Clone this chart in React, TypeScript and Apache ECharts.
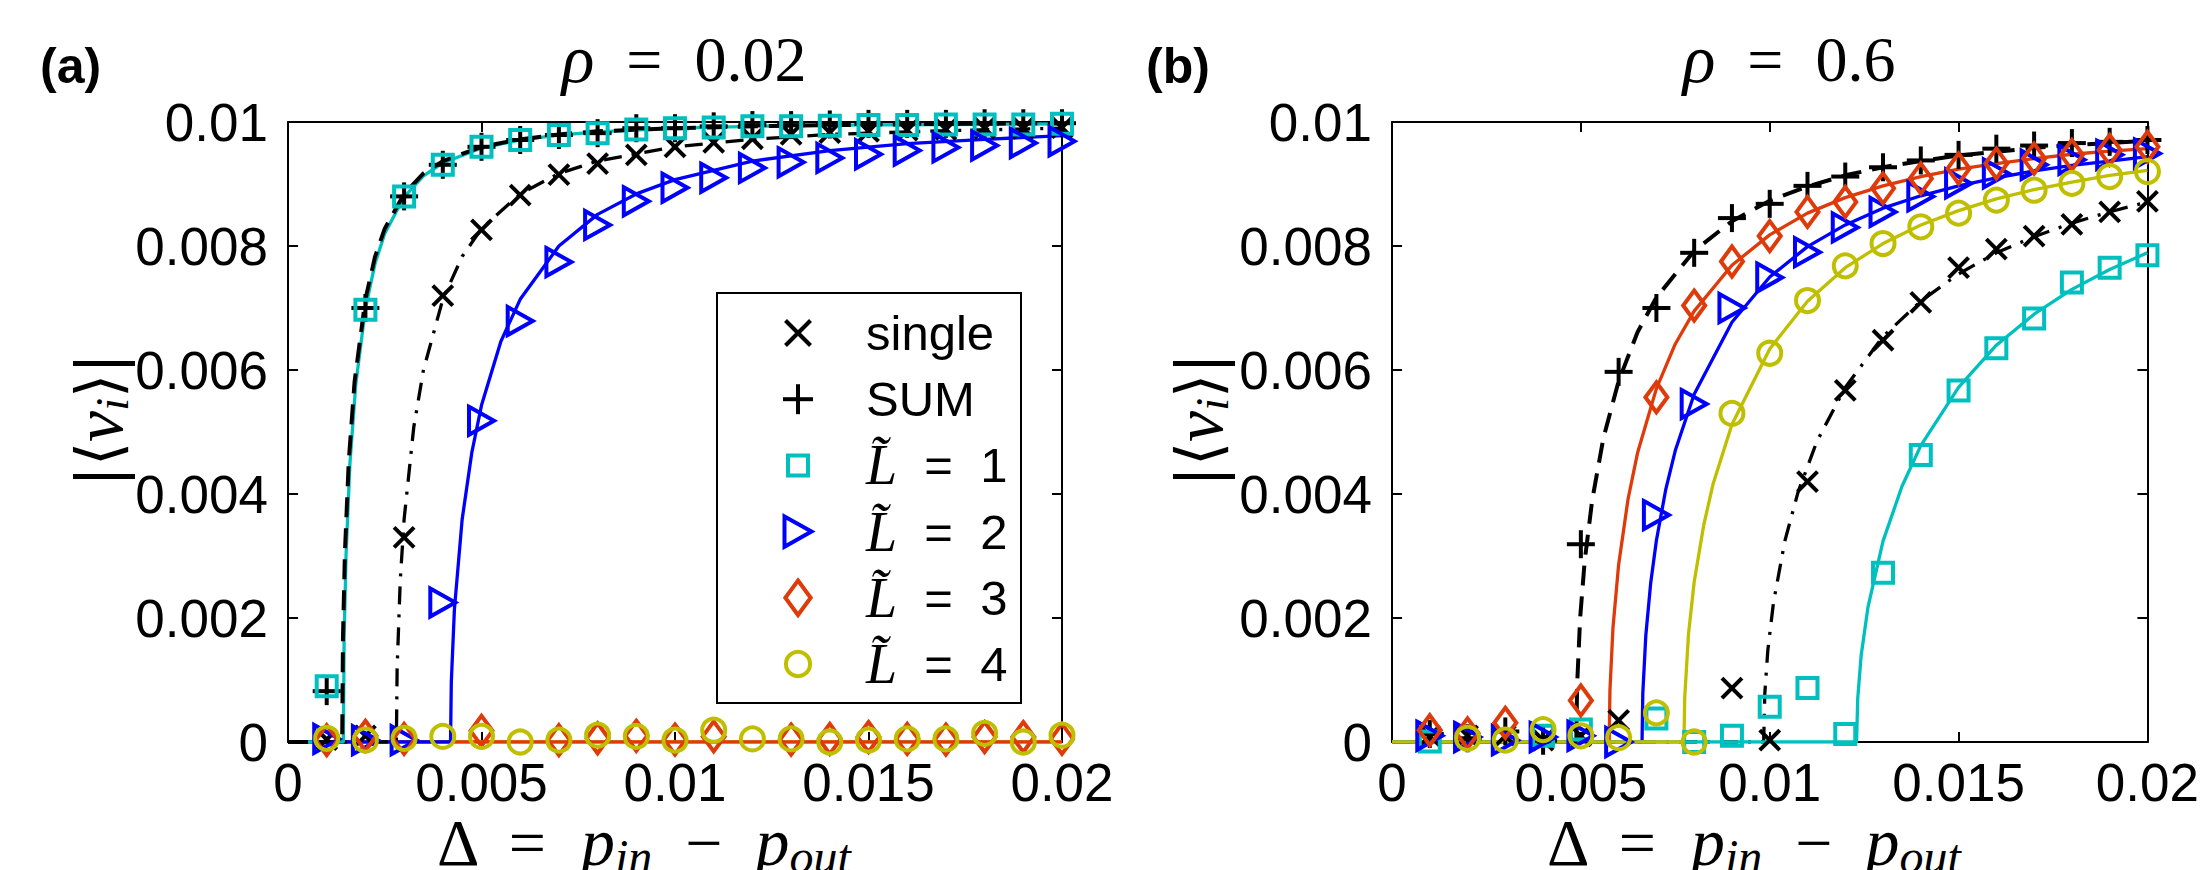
import React, { useEffect, useRef } from 'react';
import * as echarts from 'echarts';

// x positions of the simulation points, in units of 1e-3
const deltaMilli = [1, 2, 3, 4, 5, 6, 7, 8, 9, 10, 11, 12, 13, 14, 15, 16, 17, 18, 19, 20];

// ---------- Panel (a): rho = 0.02 (values in units of 1e-3) ----------
const singleA = [0.04, 0.1, 3.3, 7.2, 8.26, 8.82, 9.15, 9.33, 9.47, 9.6, 9.67, 9.73, 9.8, 9.83, 9.85, 9.87, 9.88, 9.9, 9.9, 9.91];
const sumA = [0.82, 7.0, 8.8, 9.31, 9.6, 9.71, 9.79, 9.82, 9.9, 9.9, 9.93, 9.95, 9.95, 9.96, 9.97, 9.97, 9.97, 9.98, 9.98, 9.98];
const l1A = [0.9, 6.97, 8.8, 9.31, 9.6, 9.71, 9.79, 9.82, 9.88, 9.9, 9.91, 9.93, 9.93, 9.94, 9.95, 9.95, 9.96, 9.96, 9.96, 9.97];
const l2A = [0.05, 0.03, 0.03, 2.25, 5.18, 6.79, 7.74, 8.34, 8.72, 8.94, 9.1, 9.26, 9.35, 9.42, 9.48, 9.54, 9.59, 9.62, 9.66, 9.69];
const l3A = [0.03, 0.1, 0.05, null, 0.18, null, 0.03, 0.06, 0.1, 0.04, 0.09, null, 0.04, 0.05, 0.08, 0.05, 0.04, 0.08, 0.08, 0.05];
const l4A = [0.06, 0.03, 0.06, 0.09, 0.09, 0.0, 0.03, 0.11, 0.09, 0.03, 0.19, 0.05, 0.05, 0.0, 0.03, 0.05, 0.05, 0.14, 0.0, 0.11];

// theory curves, panel (a)
const curveSumAx = [0, 1.4, 1.42, 1.47, 1.57, 1.72, 2.0, 2.25, 2.5, 3, 3.5, 4, 5, 6, 7, 8, 10, 12, 14, 17, 20];
const curveSumAy = [0, 0, 1.67, 3.05, 4.53, 5.81, 7.14, 7.83, 8.28, 8.84, 9.17, 9.37, 9.6, 9.72, 9.8, 9.85, 9.9, 9.93, 9.95, 9.97, 9.98];
const curveL1Ax = [0, 1.43, 1.45, 1.5, 1.6, 1.75, 2.0, 2.25, 2.5, 3.0, 3.5, 4.0, 5, 6, 7, 8, 10, 12, 14, 17, 20];
const curveL1Ay = [0, 0, 1.66, 3.02, 4.49, 5.76, 6.99, 7.72, 8.2, 8.79, 9.13, 9.34, 9.58, 9.71, 9.79, 9.84, 9.9, 9.93, 9.95, 9.96, 9.97];
const curveSingleAx = [0, 2.8, 2.82, 2.9, 3.0, 3.25, 3.5, 4, 4.5, 5, 6, 7, 8, 10, 12, 14, 17, 20];
const curveSingleAy = [0, 0, 1.19, 2.6, 3.59, 5.08, 6.0, 7.14, 7.83, 8.28, 8.84, 9.17, 9.37, 9.6, 9.72, 9.8, 9.86, 9.9];
const curveL2Ax = [0, 4.2, 4.22, 4.3, 4.5, 4.75, 5, 5.5, 6, 7, 8, 9, 10, 12, 14, 16, 18, 20];
const curveL2Ay = [0, 0, 0.97, 2.14, 3.59, 4.67, 5.43, 6.46, 7.14, 8.0, 8.51, 8.84, 9.07, 9.37, 9.54, 9.65, 9.72, 9.78];
const curveL3Ax = [0, 20];
const curveL3Ay = [0, 0];
const curveL4Ax = [0, 20];
const curveL4Ay = [0, 0];

// ---------- Panel (b): rho = 0.6 ----------
const singleB = [0.1, 0.1, 0.1, 0.03, 0.1, 0.35, null, null, 0.87, 0.03, 4.2, 5.67, 6.48, 7.09, 7.65, 7.95, 8.16, 8.35, 8.55, 8.72];
const sumB = [0.13, 0.06, 0.17, 0.02, 3.19, 5.97, 7.0, 7.89, 8.45, 8.68, 8.97, 9.12, 9.27, 9.38, 9.47, 9.57, 9.62, 9.66, 9.68, 9.71];
const l1B = [0.01, null, null, 0.1, 0.2, null, 0.38, 0.0, 0.1, 0.57, 0.87, 0.13, 2.73, 4.63, 5.67, 6.35, 6.83, 7.41, 7.65, 7.85];
const l2B = [0.1, 0.08, 0.03, 0.08, 0.1, 0.0, 3.66, 5.45, 7.0, 7.49, 7.9, 8.3, 8.55, 8.8, 9.01, 9.17, 9.31, 9.39, 9.47, 9.49];
const l3B = [0.19, 0.14, 0.31, null, 0.67, null, 5.56, 7.04, 7.75, 8.16, 8.55, 8.71, 8.93, 9.09, 9.25, 9.33, 9.41, 9.47, 9.55, 9.6];
const l4B = [null, 0.06, 0.03, 0.2, 0.1, 0.07, 0.47, 0.0, 5.3, 6.27, 7.12, 7.68, 8.04, 8.31, 8.53, 8.74, 8.9, 9.01, 9.12, 9.2];

// theory curves, panel (b)
const curveSumBx = [0, 4.88, 4.9, 4.98, 5.1, 5.3, 5.6, 6, 6.5, 7, 8, 9, 10, 11, 12, 13, 14, 15, 16, 17, 18, 19, 20];
const curveSumBy = [0, 0, 0.9, 1.99, 2.91, 3.9, 4.91, 5.82, 6.61, 7.17, 7.92, 8.4, 8.73, 8.96, 9.14, 9.27, 9.37, 9.46, 9.52, 9.58, 9.63, 9.66, 9.7];
const curveL3Bx = [0, 5.75, 5.77, 5.85, 6.0, 6.25, 6.5, 7, 7.5, 8, 9, 10, 11, 12, 13, 14, 15, 16, 17, 18, 19, 20];
const curveL3By = [0, 0, 0.83, 1.84, 2.86, 3.92, 4.66, 5.7, 6.42, 6.95, 7.69, 8.18, 8.53, 8.78, 8.97, 9.12, 9.24, 9.33, 9.41, 9.48, 9.53, 9.57];
const curveL2Bx = [0, 6.62, 6.64, 6.72, 6.85, 7.0, 7.25, 7.5, 8, 9, 10, 11, 12, 13, 14, 15, 16, 17, 18, 19, 20];
const curveL2By = [0, 0, 0.78, 1.72, 2.57, 3.25, 4.08, 4.7, 5.61, 6.77, 7.5, 7.99, 8.34, 8.61, 8.81, 8.97, 9.1, 9.21, 9.3, 9.37, 9.44];
const curveL4Bx = [0, 7.73, 7.75, 7.85, 8.0, 8.25, 8.5, 9, 10, 11, 12, 13, 14, 15, 16, 17, 18, 19, 20];
const curveL4By = [0, 0, 0.72, 1.74, 2.58, 3.49, 4.16, 5.12, 6.34, 7.11, 7.65, 8.04, 8.34, 8.57, 8.76, 8.91, 9.03, 9.14, 9.22];
const curveSingleBx = [0, 9.84, 9.87, 9.95, 10.1, 10.4, 10.75, 11.25, 12, 13, 14, 15, 16, 17, 18, 19, 20];
const curveSingleBy = [0, 0, 0.78, 1.48, 2.25, 3.24, 4.03, 4.85, 5.72, 6.54, 7.11, 7.55, 7.89, 8.15, 8.37, 8.55, 8.71];
const curveL1Bx = [0, 12.3, 12.33, 12.42, 12.6, 13, 13.5, 14, 15, 16, 17, 18, 19, 20];
const curveL1By = [0, 0, 0.7, 1.39, 2.17, 3.24, 4.12, 4.78, 5.72, 6.4, 6.9, 7.3, 7.62, 7.89];

// axis ticks
const xTicks = { min: 0, max: 0.02, interval: 0.005 };
const yTicks = { min: 0, max: 0.01, interval: 0.002 };

const legendNames = ['single', 'SUM', 'L1', 'L2', 'L3', 'L4'];
const legendLabels = ['single', 'SUM', '1', '2', '3', '4'];
const panelTitles = ['0.02', '0.6'];
const panelLabels = ['(a)', '(b)'];

const MILLI = 1e-3;

const COLORS: Record<string, string> = {
  single: '#000000',
  SUM: '#000000',
  L1: '#00BFBF',
  L2: '#0000FF',
  L3: '#DE3A0A',
  L4: '#BFBF00',
};

const LINE_TYPES: Record<string, any> = {
  single: [18, 10, 3, 10],
  SUM: [20, 11],
  L1: 'solid',
  L2: 'solid',
  L3: 'solid',
  L4: 'solid',
};

const MARKER_STROKE = 4;

// marker glyph (MATLAB-like hollow markers) centred on a pixel position
function markerShape(kind: string, cx: number, cy: number, k = 1): any {
  const st = { fill: 'none', stroke: COLORS[kind], lineWidth: MARKER_STROKE };
  if (kind === 'single') {
    const h = 10 * k;
    return {
      type: 'group',
      children: [
        { type: 'line', shape: { x1: cx - h, y1: cy - h, x2: cx + h, y2: cy + h }, style: st },
        { type: 'line', shape: { x1: cx - h, y1: cy + h, x2: cx + h, y2: cy - h }, style: st },
      ],
    };
  }
  if (kind === 'SUM') {
    const h = 14 * k;
    return {
      type: 'group',
      children: [
        { type: 'line', shape: { x1: cx - h, y1: cy, x2: cx + h, y2: cy }, style: st },
        { type: 'line', shape: { x1: cx, y1: cy - h, x2: cx, y2: cy + h }, style: st },
      ],
    };
  }
  if (kind === 'L1') {
    const h = 10 * k;
    return { type: 'rect', shape: { x: cx - h, y: cy - h, width: 2 * h, height: 2 * h }, style: st };
  }
  if (kind === 'L2') {
    const w = 12.5 * k;
    const h = 14 * k;
    return {
      type: 'polygon',
      shape: { points: [[cx - w, cy - h], [cx + w, cy], [cx - w, cy + h]] },
      style: st,
    };
  }
  if (kind === 'L3') {
    const w = 11 * k;
    const h = 15 * k;
    return {
      type: 'polygon',
      shape: { points: [[cx, cy - h], [cx + w, cy], [cx, cy + h], [cx - w, cy]] },
      style: st,
    };
  }
  return { type: 'circle', shape: { cx, cy, r: 11.5 * k }, style: st };
}

function pts(xs: number[], ys: (number | null)[]) {
  const out: number[][] = [];
  xs.forEach((x, i) => {
    const y = ys[i];
    if (y !== null && y !== undefined) out.push([x * MILLI, y * MILLI]);
  });
  return out;
}

function markers(name: string, ys: (number | null)[], axis: number) {
  return {
    type: 'custom',
    name,
    coordinateSystem: 'cartesian2d',
    xAxisIndex: axis,
    yAxisIndex: axis,
    data: pts(deltaMilli, ys),
    encode: { x: 0, y: 1 },
    clip: false,
    z: 5,
    silent: true,
    renderItem: (params: any, api: any) => {
      const p = api.coord([api.value(0), api.value(1)]);
      return markerShape(name, p[0], p[1]);
    },
  };
}

function curve(name: string, xs: number[], ys: number[], axis: number, width = 3.3) {
  return {
    type: 'line',
    name: name + ' theory ' + axis,
    xAxisIndex: axis,
    yAxisIndex: axis,
    data: pts(xs, ys),
    showSymbol: false,
    symbol: 'none',
    lineStyle: { color: COLORS[name], width, type: LINE_TYPES[name] },
    z: 3,
    silent: true,
  };
}

const SANS = '"Liberation Sans", Arial, sans-serif';
const SERIF = '"Liberation Serif", "Times New Roman", serif';
const DSERIF = '"DejaVu Serif", serif';

const fmt = (v: number) => String(parseFloat(v.toFixed(4)));

function makeXAxis(grid: number, top: boolean) {
  return {
    type: 'value',
    gridIndex: grid,
    position: top ? 'top' : 'bottom',
    min: xTicks.min,
    max: xTicks.max,
    interval: xTicks.interval,
    axisLine: { show: true, onZero: false, lineStyle: { color: '#000', width: 2 } },
    axisTick: { show: true, inside: true, length: 10, lineStyle: { color: '#000', width: 2 } },
    axisLabel: {
      show: !top,
      fontSize: 53,
      fontFamily: SANS,
      color: '#000',
      margin: 14,
      formatter: fmt,
    },
    splitLine: { show: false },
  };
}

function makeYAxis(grid: number, right: boolean) {
  return {
    type: 'value',
    gridIndex: grid,
    position: right ? 'right' : 'left',
    min: yTicks.min,
    max: yTicks.max,
    interval: yTicks.interval,
    axisLine: { show: true, onZero: false, lineStyle: { color: '#000', width: 2 } },
    axisTick: { show: true, inside: true, length: 10, lineStyle: { color: '#000', width: 2 } },
    axisLabel: {
      show: !right,
      fontSize: 53,
      fontFamily: SANS,
      color: '#000',
      margin: 20,
      formatter: fmt,
    },
    splitLine: { show: false },
  };
}

const titleRich = {
  r: { fontFamily: SERIF, fontStyle: 'italic', fontSize: 68, fill: '#000' },
  n: { fontFamily: SERIF, fontSize: 64, fill: '#000' },
};

const xTitleRich = {
  n: { fontFamily: SERIF, fontSize: 66, fill: '#000', lineHeight: 60 },
  v: { fontFamily: SERIF, fontStyle: 'italic', fontSize: 68, fill: '#000', lineHeight: 60 },
  s: { fontFamily: SERIF, fontStyle: 'italic', fontSize: 48, fill: '#000', lineHeight: 34, padding: [28, 0, 0, 0] },
};

const yTitleRich = {
  d: { fontFamily: DSERIF, fontSize: 62, fill: '#000', lineHeight: 60 },
  v: { fontFamily: SERIF, fontStyle: 'italic', fontSize: 70, fill: '#000', lineHeight: 60 },
  s: { fontFamily: SERIF, fontStyle: 'italic', fontSize: 46, fill: '#000', lineHeight: 34, padding: [28, 0, 0, 0] },
};

const legendTextRich = {
  l: { fontFamily: SERIF, fontStyle: 'italic', fontSize: 56, fill: '#000' },
  t: { fontFamily: SANS, fontSize: 49, fill: '#000' },
};

// legend box geometry (pixels)
const LEGEND_BOX = { x: 717, y: 293, w: 304, h: 410 };
const LEGEND_ROW0 = 333;
const LEGEND_ROW_STEP = 66.2;
const LEGEND_ICON_X = 798;
const LEGEND_TEXT_X = 866;
const LEGEND_ICON_SCALE: Record<string, number> = { single: 1.25, SUM: 1.07, L1: 1.0, L2: 1.08, L3: 1.15, L4: 1.05 };

export default function App() {
  const ref = useRef<HTMLDivElement>(null);

  useEffect(() => {
    document.body.style.margin = '0';
    if (!ref.current) return;
    const chart = echarts.init(ref.current, null, { renderer: 'svg' });

    const series: any[] = [
      // panel (a): lines
      curve('L4', curveL4Ax, curveL4Ay, 0),
      curve('L3', curveL3Ax, curveL3Ay, 0),
      curve('L2', curveL2Ax, curveL2Ay, 0),
      curve('single', curveSingleAx, curveSingleAy, 0),
      curve('L1', curveL1Ax, curveL1Ay, 0),
      curve('SUM', curveSumAx, curveSumAy, 0, 4),
      // panel (a): markers
      markers('single', singleA, 0),
      markers('SUM', sumA, 0),
      markers('L1', l1A, 0),
      markers('L2', l2A, 0),
      markers('L3', l3A, 0),
      markers('L4', l4A, 0),
      // panel (b): lines
      curve('SUM', curveSumBx, curveSumBy, 2, 4),
      curve('single', curveSingleBx, curveSingleBy, 2),
      curve('L3', curveL3Bx, curveL3By, 2),
      curve('L2', curveL2Bx, curveL2By, 2),
      curve('L1', curveL1Bx, curveL1By, 2),
      curve('L4', curveL4Bx, curveL4By, 2),
      // panel (b): markers
      markers('single', singleB, 2),
      markers('SUM', sumB, 2),
      markers('L1', l1B, 2),
      markers('L2', l2B, 2),
      markers('L3', l3B, 2),
      markers('L4', l4B, 2),
    ];

    const graphic: any[] = [];
    const panelX = [40, 1146];
    const titleX = [684, 1789];
    const yTitleX = [98, 1198];
    const xTitleX = [643, 1753];
    [0, 1].forEach((p) => {
      graphic.push({
        type: 'text',
        x: panelX[p],
        y: 66,
        style: {
          text: panelLabels[p],
          fontFamily: SANS,
          fontWeight: 'bold',
          fontSize: 50,
          fill: '#000',
          verticalAlign: 'middle',
        },
      });
      graphic.push({
        type: 'text',
        x: titleX[p],
        y: 59,
        style: {
          text: '{r|ρ}{n|  =  ' + panelTitles[p] + '}',
          rich: titleRich,
          align: 'center',
          verticalAlign: 'middle',
        },
      });
      graphic.push({
        type: 'text',
        x: yTitleX[p],
        y: 420,
        rotation: Math.PI / 2,
        style: {
          text: '{d||⟨}{v|v}{s|i}{d|⟩|}',
          rich: yTitleRich,
          align: 'center',
          verticalAlign: 'middle',
        },
      });
      graphic.push({
        type: 'text',
        x: xTitleX[p],
        y: 842,
        style: {
          text: '{n|Δ  =  }{v|p}{s|in}{n|  −  }{v|p}{s|out}',
          rich: xTitleRich,
          align: 'center',
          verticalAlign: 'middle',
        },
      });
    });

    // legend of panel (a)
    const legendChildren: any[] = [
      {
        type: 'rect',
        shape: { x: LEGEND_BOX.x, y: LEGEND_BOX.y, width: LEGEND_BOX.w, height: LEGEND_BOX.h },
        style: { fill: '#ffffff', stroke: '#000', lineWidth: 2 },
      },
    ];
    legendNames.forEach((name, i) => {
      const cy = LEGEND_ROW0 + i * LEGEND_ROW_STEP;
      legendChildren.push(markerShape(name, LEGEND_ICON_X, cy, LEGEND_ICON_SCALE[name]));
      const isL = name.charAt(0) === 'L';
      legendChildren.push({
        type: 'text',
        x: LEGEND_TEXT_X,
        y: cy,
        style: isL
          ? {
              text: '{l|L\u0303}{t|  =  ' + legendLabels[i] + '}',
              rich: legendTextRich,
              verticalAlign: 'middle',
            }
          : {
              text: legendLabels[i],
              fontFamily: SANS,
              fontSize: 49,
              fill: '#000',
              verticalAlign: 'middle',
            },
      });
    });
    graphic.push({ type: 'group', z: 100, children: legendChildren });

    chart.setOption({
      animation: false,
      backgroundColor: '#ffffff',
      grid: [
        { left: 288, top: 122, width: 774, height: 620, show: false },
        { left: 1392, top: 122, width: 771, height: 620, show: false },
      ],
      xAxis: [makeXAxis(0, false), makeXAxis(0, true), makeXAxis(1, false), makeXAxis(1, true)],
      yAxis: [makeYAxis(0, false), makeYAxis(0, true), makeYAxis(1, false), makeYAxis(1, true)],
      graphic,
      series,
    });

    return () => {
      chart.dispose();
    };
  }, []);

  return <div ref={ref} style={{ width: 2202, height: 870, background: '#fff' }} />;
}
